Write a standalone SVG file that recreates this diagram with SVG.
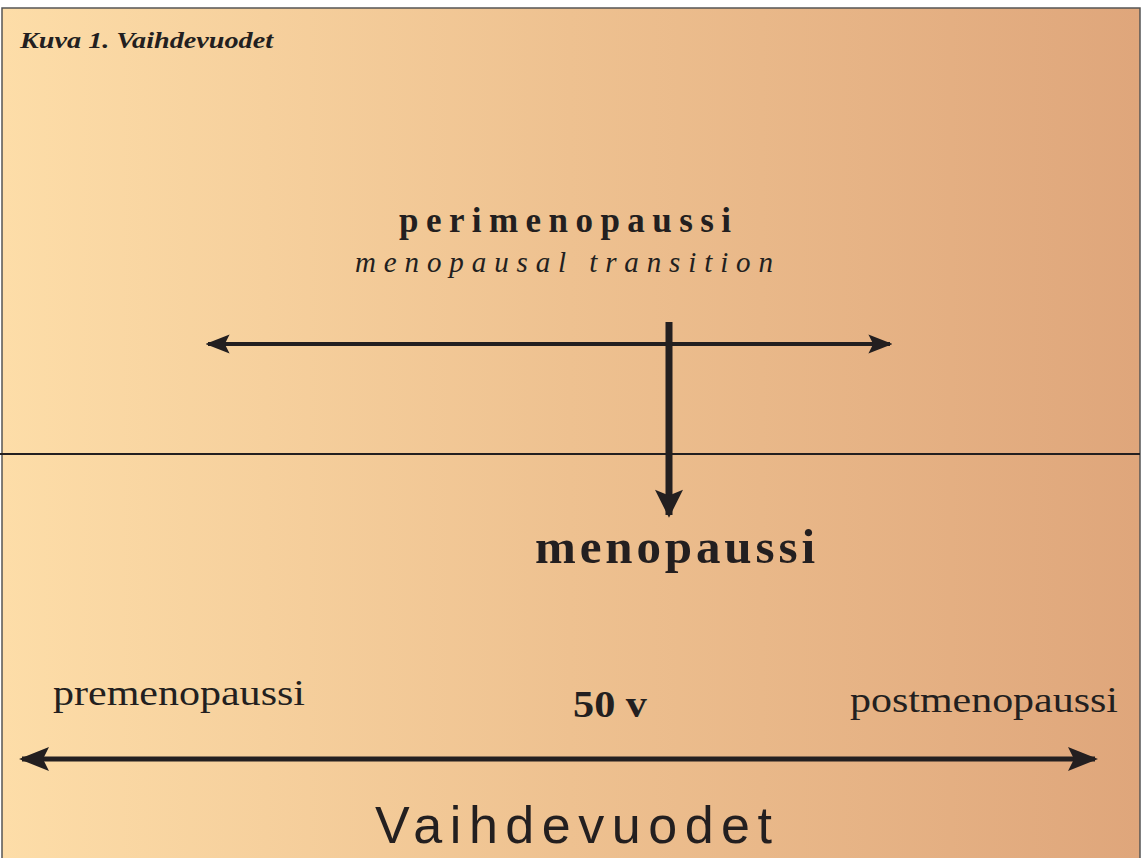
<svg xmlns="http://www.w3.org/2000/svg" width="1143" height="858" viewBox="0 0 1143 858">
<defs>
<linearGradient id="bg" x1="0" y1="0" x2="1" y2="0">
<stop offset="0" stop-color="#FDDDA8"/>
<stop offset="0.5" stop-color="#EEC190"/>
<stop offset="1" stop-color="#DFA67B"/>
</linearGradient>
<marker id="ah" viewBox="0 0 10 8" refX="9" refY="4" markerWidth="6" markerHeight="5" orient="auto-start-reverse" markerUnits="strokeWidth">
<path d="M0,0 L10,4 L0,8 L2,4 Z" fill="#231F20"/>
</marker>
<marker id="ahd" viewBox="0 0 10 10" refX="9" refY="5" markerWidth="5.5" markerHeight="4" orient="auto" markerUnits="strokeWidth">
<path d="M0,0 L10,5 L0,10 L2,5 Z" fill="#231F20"/>
</marker>
</defs>
<style>
.serif{font-family:"Liberation Serif","DejaVu Serif",serif;fill:#231F20}
.sans{font-family:"Liberation Sans",Arial,sans-serif;fill:#231F20}
.ln{stroke:#231F20;fill:none}
</style>
<rect x="2" y="8" width="1138" height="860" fill="url(#bg)" stroke="#555" stroke-width="1.5"/>
<text class="serif" x="20" y="48" font-size="23" font-style="italic" font-weight="bold" textLength="253" lengthAdjust="spacingAndGlyphs">Kuva 1. Vaihdevuodet</text>
<g id="connectors">
<line class="ln" x1="0" y1="454" x2="1140" y2="454" stroke-width="2"/>
<line class="ln" x1="208" y1="344" x2="890" y2="344" stroke-width="4" marker-start="url(#ah)" marker-end="url(#ah)"/>
<line class="ln" x1="669" y1="322" x2="669" y2="515" stroke-width="7" marker-end="url(#ahd)"/>
<line class="ln" x1="22" y1="759" x2="1095" y2="759" stroke-width="5" marker-start="url(#ah)" marker-end="url(#ah)"/>
</g>
<g id="perimenopaussi">
<text class="serif" x="399" y="232" font-size="35" font-weight="bold" textLength="332" lengthAdjust="spacing">perimenopaussi</text>
<text class="serif" x="355" y="272" font-size="29" font-style="italic" textLength="418" lengthAdjust="spacing">menopausal transition</text>
</g>
<g id="menopaussi">
<text class="serif" x="535" y="563" font-size="49" font-weight="bold" textLength="280" lengthAdjust="spacing">menopaussi</text>
</g>
<g id="premenopaussi">
<text class="serif" x="53" y="705" font-size="36" textLength="252" lengthAdjust="spacingAndGlyphs">premenopaussi</text>
</g>
<g id="age">
<text class="serif" x="573" y="717" font-size="38" font-weight="bold" textLength="74" lengthAdjust="spacingAndGlyphs">50 v</text>
</g>
<g id="postmenopaussi">
<text class="serif" x="850" y="712" font-size="36" textLength="268" lengthAdjust="spacingAndGlyphs">postmenopaussi</text>
</g>
<g id="vaihdevuodet">
<text class="sans" x="375" y="843" font-size="52" textLength="397" lengthAdjust="spacing">Vaihdevuodet</text>
</g>
</svg>
